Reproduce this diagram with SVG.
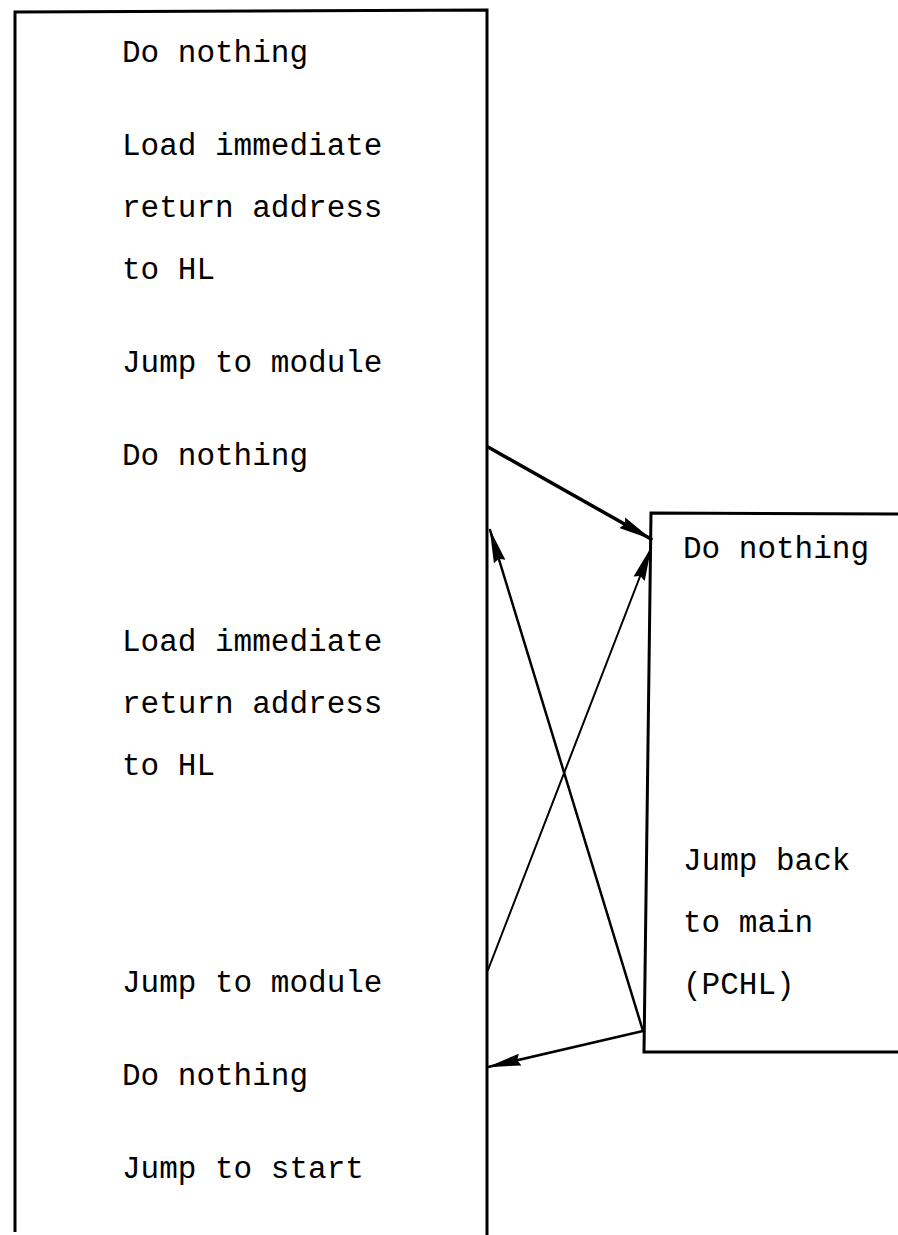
<svg xmlns="http://www.w3.org/2000/svg" width="898" height="1235" viewBox="0 0 898 1235">
<style>
.box{fill:none;stroke:#000;stroke-width:3;stroke-linejoin:miter}
.t{font-family:"Liberation Mono","DejaVu Sans Mono",monospace;font-size:31px;fill:#000}
.c{fill:none;stroke:#000;stroke-linecap:round}
</style>
<defs>
<marker id="ah" viewBox="0 0 34 14" refX="33" refY="7" markerWidth="34" markerHeight="14" markerUnits="userSpaceOnUse" orient="auto">
<path d="M0,1 L34,7 L0,13 L3,7 z" fill="#000"/>
</marker>
</defs>
<rect width="898" height="1235" fill="#fff"/>
<g id="main-program">
<path class="box" d="M15,1232 L15,12 L487,10 L487,1235"/>
<text class="t" x="122" y="62">Do nothing</text>
<text class="t" x="122" y="155">Load immediate</text>
<text class="t" x="122" y="217">return address</text>
<text class="t" x="122" y="279">to HL</text>
<text class="t" x="122" y="372">Jump to module</text>
<text class="t" x="122" y="465">Do nothing</text>
<text class="t" x="122" y="651">Load immediate</text>
<text class="t" x="122" y="713">return address</text>
<text class="t" x="122" y="775">to HL</text>
<text class="t" x="122" y="992">Jump to module</text>
<text class="t" x="122" y="1085">Do nothing</text>
<text class="t" x="122" y="1178">Jump to start</text>
</g>
<g id="module">
<path class="box" d="M898,514 L651,513 L644,1052 L898,1052"/>
<text class="t" x="683" y="558">Do nothing</text>
<text class="t" x="683" y="870">Jump back</text>
<text class="t" x="683" y="932">to main</text>
<text class="t" x="683" y="994">(PCHL)</text>
</g>
<g id="connectors">
<line class="c" x1="488" y1="447" x2="651" y2="539" stroke-width="3.5" marker-end="url(#ah)"/>
<line class="c" x1="488" y1="970" x2="651" y2="548" stroke-width="2" marker-end="url(#ah)"/>
<line class="c" x1="643" y1="1031" x2="490" y2="530" stroke-width="2.5" marker-end="url(#ah)"/>
<line class="c" x1="643" y1="1031" x2="488" y2="1067" stroke-width="2.5" marker-end="url(#ah)"/>
</g>
</svg>
